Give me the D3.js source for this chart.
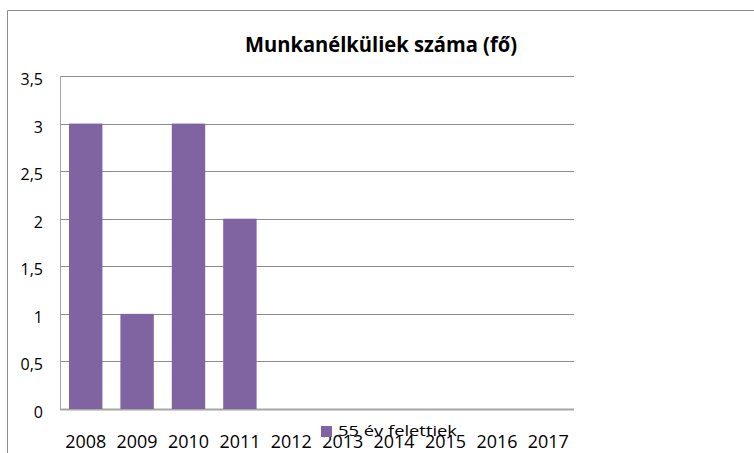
<!DOCTYPE html>
<html>
<head>
<meta charset="utf-8">
<script src="https://cdn.jsdelivr.net/npm/d3@7"></script>
<style>
  body { margin: 0; background: #fff; }
  text { font-family: "Open Sans", "Liberation Sans", sans-serif; fill: #000; }
</style>
</head>
<body>
<script>
// adatok
var years = ["2008", "2009", "2010", "2011", "2012", "2013", "2014", "2015", "2016", "2017"];
var values = [3, 1, 3, 2, 0, 0, 0, 0, 0, 0];
var yTicks = [0, 0.5, 1, 1.5, 2, 2.5, 3, 3.5];
var seriesName = "55 év felettiek";
var title = "Munkanélküliek száma (fő)";

var W = 754, H = 453;
var plot = {left: 60, right: 574, top: 76, bottom: 409};

var svg = d3.select("body").append("svg")
    .attr("width", W)
    .attr("height", H);

// keret
svg.append("path")
    .attr("d", "M7.5," + H + "V10.5H" + W)
    .attr("fill", "none")
    .attr("stroke", "#8c8c8c")
    .attr("stroke-width", 1);

var x = d3.scaleBand().domain(years).range([plot.left, plot.right]).paddingInner(0.35).paddingOuter(0.175);
var y = d3.scaleLinear().domain([0, 3.5]).range([plot.bottom, plot.top]);

// rácsvonalak
svg.append("g").selectAll("line")
    .data(yTicks)
    .join("line")
    .attr("x1", plot.left)
    .attr("x2", plot.right)
    .attr("y1", d => Math.round(y(d)) + 0.5)
    .attr("y2", d => Math.round(y(d)) + 0.5)
    .attr("stroke", d => d === 0 ? "#a6a6a6" : "#8c8c8c")
    .attr("stroke-width", d => d === 0 ? 2 : 1);

// y tengely vonal
svg.append("line")
    .attr("x1", plot.left + 0.5).attr("x2", plot.left + 0.5)
    .attr("y1", plot.top).attr("y2", plot.bottom)
    .attr("stroke", "#a6a6a6");

// oszlopok
svg.append("g").selectAll("rect")
    .data(values.map((v, i) => ({year: years[i], value: v})).filter(d => d.value > 0))
    .join("rect")
    .attr("x", d => x(d.year))
    .attr("y", d => y(d.value))
    .attr("width", x.bandwidth())
    .attr("height", d => y(0) - y(d.value))
    .attr("fill", "#8064a2");

// y feliratok
svg.append("g").selectAll("text")
    .data(yTicks)
    .join("text")
    .attr("x", 43)
    .attr("y", d => y(d) + 9)
    .attr("text-anchor", "end")
    .attr("font-size", "16px")
    .text(d => String(d).replace(".", ","));

// x feliratok
svg.append("g").selectAll("text")
    .data(years)
    .join("text")
    .attr("x", d => x(d) + x.bandwidth() / 2)
    .attr("y", 448)
    .attr("text-anchor", "middle")
    .attr("font-size", "18px")
    .attr("textLength", 41)
    .attr("lengthAdjust", "spacingAndGlyphs")
    .text(d => d);

// cím
svg.append("text")
    .attr("x", 381)
    .attr("y", 52)
    .attr("text-anchor", "middle")
    .attr("font-size", "21px")
    .attr("font-weight", "bold")
    .attr("textLength", 272)
    .attr("lengthAdjust", "spacingAndGlyphs")
    .text(title);

// jelmagyarázat
var legend = svg.append("g").attr("transform", "translate(321,426)");
legend.append("rect").attr("width", 11).attr("height", 11).attr("fill", "#8064a2");
legend.append("text")
    .attr("x", 17)
    .attr("y", 10)
    .attr("font-size", "15px")
    .attr("textLength", 119)
    .attr("lengthAdjust", "spacingAndGlyphs")
    .text(seriesName);
</script>
</body>
</html>
